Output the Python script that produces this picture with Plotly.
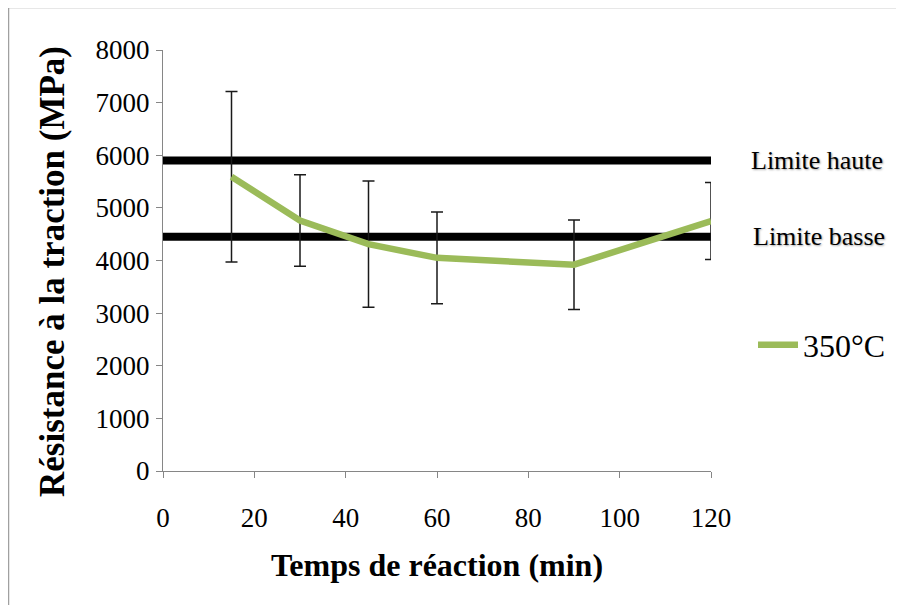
import plotly.graph_objects as go

# Data
time_min = [15, 30, 45, 60, 90, 120]
strength_350 = [5590, 4760, 4310, 4050, 3920, 4750]
strength_err = [1620, 870, 1200, 870, 850, 730]
limit_x = [0, 120]
limit_high = 5900
limit_low = 4450
series_name = "350°C"
label_high = "Limite haute"
label_low = "Limite basse"
x_title = "Temps de réaction (min)"
y_title = "Résistance à la traction (MPa)"

SERIF = "Liberation Serif"

fig = go.Figure()
fig.add_trace(go.Scatter(x=limit_x, y=[limit_high] * 2, mode="lines",
                         line=dict(color="black", width=8), showlegend=False, hoverinfo="skip"))
fig.add_trace(go.Scatter(x=limit_x, y=[limit_low] * 2, mode="lines",
                         line=dict(color="black", width=8), showlegend=False, hoverinfo="skip"))
fig.add_trace(go.Scatter(
    x=time_min, y=strength_350, mode="lines", name=series_name,
    line=dict(color="#9BBB59", width=6.5),
    error_y=dict(type="data", array=strength_err, visible=True,
                 color="#1a1a1a", thickness=1.5, width=6),
))

# page has an 8px body offset; screen px -> figure px
OFF = 8
W, H = 904, 605
L, R, T, B = 163 - OFF, W - (711 - OFF), 50 - OFF, H - (471 - OFF)
pw = W - L - R
ph = H - T - B

def sx(px):
    return (px - OFF - L) / pw

def sy(py):
    return (H - B - (py - OFF)) / ph

shadow = "1px 1px 2px rgba(0,0,0,0.35)"
fig.add_annotation(x=sx(749), xref="paper", y=limit_high, yref="y",
                   text=label_high, showarrow=False, xanchor="left", yanchor="middle",
                   font=dict(family=SERIF, size=26, color="black", shadow=shadow))
fig.add_annotation(x=sx(751), xref="paper", y=limit_low, yref="y",
                   text=label_low, showarrow=False, xanchor="left", yanchor="middle",
                   font=dict(family=SERIF, size=26, color="black", shadow=shadow))

# y-axis title (rotated annotation to match its off-centre position)
fig.add_annotation(x=sx(52), xref="paper", y=sy(272), yref="paper",
                   text="<b>" + y_title + "</b>", textangle=-90, showarrow=False,
                   xanchor="center", yanchor="middle",
                   font=dict(family=SERIF, size=35, color="black"))

# outer chart border
fig.add_shape(type="rect", xref="paper", yref="paper",
              x0=sx(8.5), x1=sx(1000),
              y0=sy(700), y1=sy(7.5),
              line=dict(color="#a0a0a0", width=1.5), layer="below")

fig.update_layout(
    template="none",
    width=W, height=H,
    margin=dict(l=L, r=R, t=T, b=B),
    paper_bgcolor="white", plot_bgcolor="white",
    font=dict(family=SERIF, color="black"),
    showlegend=True,
    legend=dict(x=sx(753), y=sy(345), xanchor="left", yanchor="middle",
                font=dict(family=SERIF, size=32, color="black"),
                bgcolor="rgba(0,0,0,0)", itemwidth=40),
    xaxis=dict(range=[0, 120], dtick=20, tick0=0, showgrid=False, zeroline=False,
               showline=True, linecolor="#868686", linewidth=1,
               ticks="outside", ticklen=6, tickcolor="#868686",
               tickfont=dict(family=SERIF, size=27, color="black"),
               ticklabelstandoff=17,
               title=dict(text="<b>" + x_title + "</b>", standoff=21,
                          font=dict(family=SERIF, size=32, color="black"))),
    yaxis=dict(range=[0, 8000], dtick=1000, tick0=0, showgrid=False, zeroline=False,
               showline=True, linecolor="#868686", linewidth=1,
               ticks="outside", ticklen=6, tickcolor="#868686",
               tickfont=dict(family=SERIF, size=27, color="black"),
               ticklabelstandoff=1),
)

fig.write_html("out.html")
